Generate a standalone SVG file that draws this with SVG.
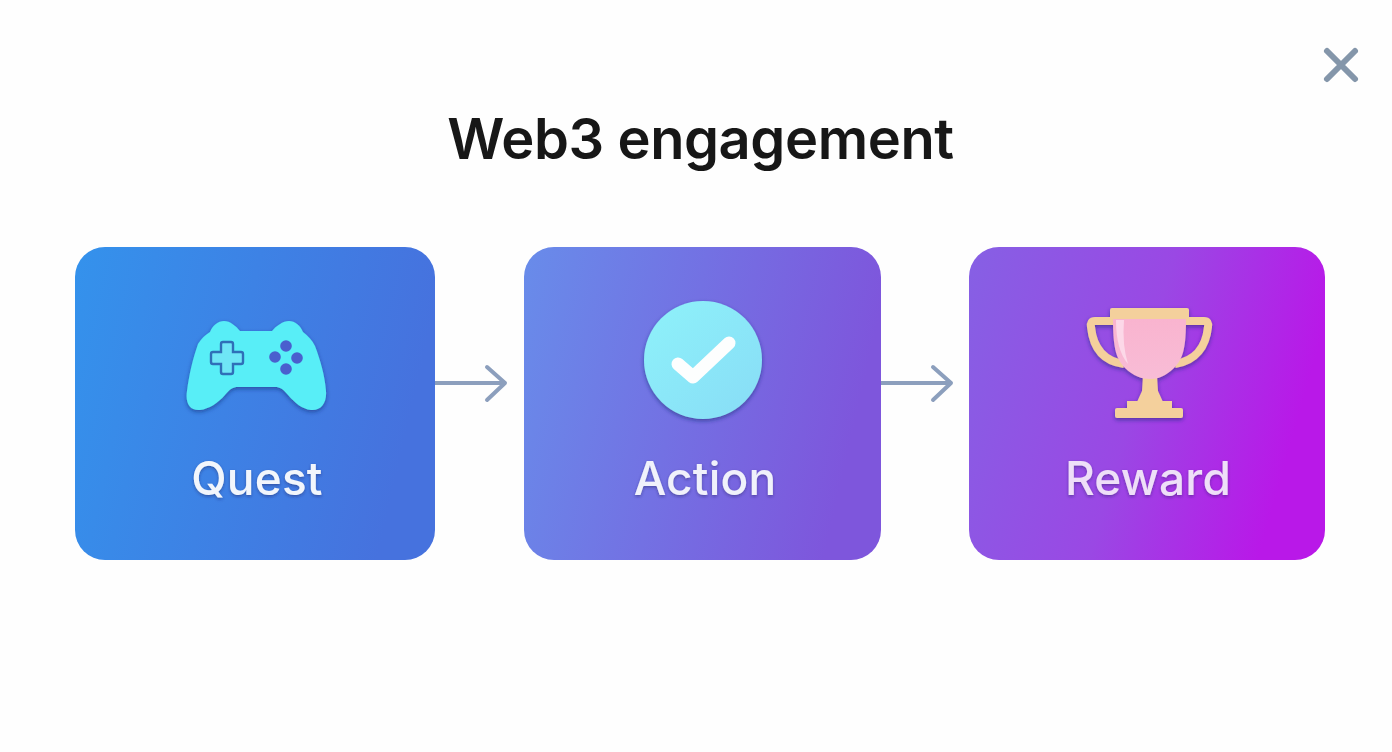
<svg xmlns="http://www.w3.org/2000/svg" width="1392" height="752" viewBox="0 0 1392 752">
<style>
.lbl{font-family:"Inter","Liberation Sans",sans-serif;font-size:46px;font-weight:550;text-anchor:middle;letter-spacing:.2px}
.conn{fill:none;stroke:#8c9fbd;stroke-width:4;stroke-linecap:round;stroke-linejoin:round}
.gold{fill:#f4d09c}
</style>
<defs>
<linearGradient id="g1" x1="0" y1="0" x2="1" y2="0.2"><stop offset="0" stop-color="#3492ec"/><stop offset="1" stop-color="#4672de"/></linearGradient>
<linearGradient id="g2" x1="0" y1="0" x2="1" y2="0.2"><stop offset="0" stop-color="#688cea"/><stop offset="1" stop-color="#7e56dc"/></linearGradient>
<linearGradient id="g3" x1="0" y1="0" x2="1" y2="0.25"><stop offset="0" stop-color="#8660e4"/><stop offset="0.55" stop-color="#9a48e4"/><stop offset="1" stop-color="#b918e8"/></linearGradient>
<linearGradient id="gc" x1="0" y1="0" x2="1" y2="1"><stop offset="0" stop-color="#8ef2fa"/><stop offset="1" stop-color="#88dcf6"/></linearGradient>
<linearGradient id="gp" x1="0" y1="0" x2="0" y2="1"><stop offset="0" stop-color="#f9b4cf"/><stop offset="1" stop-color="#f8bcd6"/></linearGradient>
<filter id="sh" x="-20%" y="-20%" width="140%" height="140%"><feDropShadow dx="0" dy="2" stdDeviation="2" flood-color="#142a70" flood-opacity=".55"/></filter>
<filter id="ts" x="-10%" y="-20%" width="120%" height="140%"><feDropShadow dx="0" dy="1.5" stdDeviation="1.5" flood-color="#20205a" flood-opacity=".45"/></filter>
</defs>
<rect width="1392" height="752" fill="#fefefe"/>
<text x="700.500" y="159" font-family="Inter,'Liberation Sans',sans-serif" font-size="56" font-weight="600" fill="#171717" text-anchor="middle" letter-spacing="-.4">Web3 engagement</text>
<path id="close" d="M1327 51L1355 79M1355 51L1327 79" fill="none" stroke="#8496aa" stroke-width="6" stroke-linecap="round"/>
<g id="connectors">
<path class="conn" d="M435 383H505M487 367L505 383L487 400"/>
<path class="conn" d="M881 383H951M933 367L951 383L933 400"/>
</g>
<g id="quest">
<rect x="75" y="247" width="360" height="313" rx="30" fill="url(#g1)"/>
<g filter="url(#sh)">
<path d="M210 332C213 325 218 321 224 321C230 321 236 326 240 331H272C276 326 283 321 289 321C295 321 300 325 303 332C308 336 312 340 315 346C320 359 325 376 326 391C327 403 321 411 311 410C302 409 295 403 288 395C283 389 280 387 275 387H238C233 387 230 389 225 395C218 403 209 409 200 410C190 411 185 403 187 391C189 375 193 358 198 344C201 339 205 335 210 332Z" fill="#58eef7"/>
</g>
<path d="M223 342H231Q233 342 233 344V352H241Q243 352 243 354V362Q243 364 241 364H233V372Q233 374 231 374H223Q221 374 221 372V364H213Q211 364 211 362V354Q211 352 213 352H221V344Q221 342 223 342Z" fill="#6fe6f6" stroke="#2f6fb8" stroke-width="2.400"/>
<g fill="#4a5fce"><circle cx="286" cy="346" r="5.800"/><circle cx="275" cy="357" r="5.800"/><circle cx="297" cy="358" r="5.800"/><circle cx="286" cy="369" r="5.800"/></g>
<text class="lbl" x="257" y="495" fill="#f2f6fc" filter="url(#ts)">Quest</text>
</g>
<g id="action">
<rect x="524" y="247" width="357" height="313" rx="30" fill="url(#g2)"/>
<circle cx="703" cy="360" r="59" fill="url(#gc)" filter="url(#sh)"/>
<path d="M678 364L693 377L729 343" fill="none" stroke="#fdfefe" stroke-width="13" stroke-linecap="round" stroke-linejoin="round"/>
<text class="lbl" x="705" y="495" fill="#f0f1fb" filter="url(#ts)">Action</text>
</g>
<g id="reward">
<rect x="969" y="247" width="356" height="313" rx="30" fill="url(#g3)"/>
<g filter="url(#sh)">
<path d="M1114 321H1095Q1090 321 1091 327C1093 346 1102 361 1124 364" fill="none" stroke="#f4d09c" stroke-width="8"/>
<path d="M1185 321H1204Q1209 321 1208 327C1206 346 1196 361 1175 364" fill="none" stroke="#f4d09c" stroke-width="8"/>
<path class="gold" d="M1143 376H1157L1158 391L1163 402H1137L1142 391Z"/>
<rect class="gold" x="1127" y="401" width="45" height="8"/>
<rect class="gold" x="1115" y="408" width="68" height="10" rx="2"/>
<path d="M1113 318H1186C1186 345 1184 358 1174 368C1166 376 1158 379 1150 379C1142 379 1133 376 1125 368C1115 358 1113 345 1113 318Z" fill="url(#gp)"/>
<rect class="gold" x="1110" y="308" width="79" height="11" rx="2"/>
</g>
<path d="M1116 320Q1116 350 1128 364Q1122 345 1124 320Z" fill="#fcd8e8"/>
<text class="lbl" x="1148" y="495" fill="#eedff8" filter="url(#ts)">Reward</text>
</g>
</svg>
